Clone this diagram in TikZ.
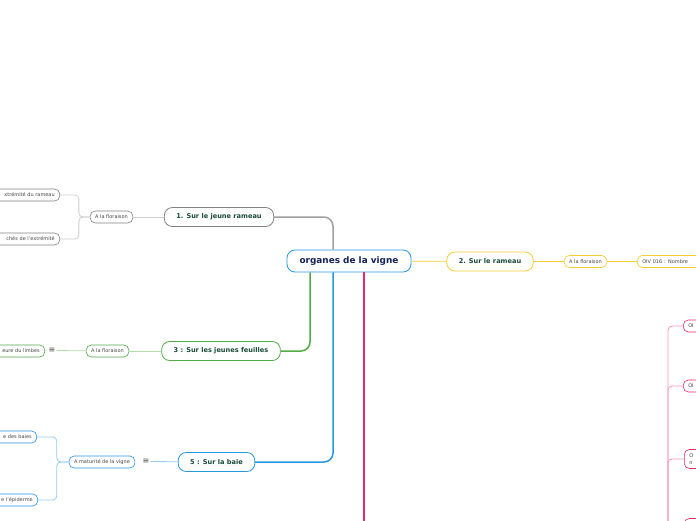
\documentclass[tikz,border=0pt]{standalone}
\usepackage{fontspec}
\setmainfont{DejaVu Sans}
\usetikzlibrary{positioning}

\definecolor{bleuR}{RGB}{40,150,225}
\definecolor{bleuC}{RGB}{150,205,240}
\definecolor{grisB}{RGB}{130,130,130}
\definecolor{grisT}{RGB}{160,160,160}
\definecolor{grisC}{RGB}{205,205,205}
\definecolor{vertB}{RGB}{80,170,70}
\definecolor{vertC}{RGB}{180,220,170}
\definecolor{jauneB}{RGB}{245,205,50}
\definecolor{roseB}{RGB}{230,40,110}
\definecolor{roseC}{RGB}{245,150,185}
\definecolor{marine}{RGB}{20,35,85}
\definecolor{vertT}{RGB}{25,75,55}
\definecolor{texteG}{RGB}{70,70,70}

\tikzset{
  root/.style={draw=bleuR, line width=0.8pt, rounded corners=8pt, fill=white,
    font=\bfseries\fontsize{8.9}{10}\selectfont, text=marine,
    minimum height=22pt, minimum width=124pt, inner sep=0pt},
  topic/.style={line width=0.8pt, rounded corners=8pt, fill=white,
    font=\bfseries\fontsize{6.6}{7}\selectfont, text=vertT,
    minimum height=19pt, inner xsep=12pt, inner ysep=0pt},
  sub/.style={line width=0.6pt, rounded corners=5pt, fill=white,
    font=\fontsize{5}{6}\selectfont, text=texteG,
    minimum height=12pt, inner xsep=5pt, inner ysep=0pt},
  leafL/.style={sub, text width=90pt, align=right, anchor=east},
  leafR/.style={sub, text width=60pt, align=left, anchor=west},
  note/.style={font=\fontsize{8}{8}\selectfont, text=texteG, inner sep=1pt},
  tronc/.style={line width=1.5pt, rounded corners=9pt},
  fil/.style={line width=0.8pt, rounded corners=4pt},
}

\begin{document}
\begin{tikzpicture}[x=1pt,y=-1pt]
  \useasboundingbox (0,0) rectangle (696,520);
  \clip (0,0) rectangle (696,520);

  % Central topic
  \node[root] (vigne) at (349,261) {organes de la vigne};

  % 1. Sur le jeune rameau
  \node[topic, draw=grisB] (jeuneR) at (219,217) {1. Sur le jeune rameau};
  \node[sub, draw=grisB] (florG) at (111.5,217) {A la floraison};
  \node[leafL, draw=grisB] (extrem) at (60,195) {xtrémité du rameau};
  \node[leafL, draw=grisB] (couches) at (60,239) {chés de l'extrémité};
  \draw[tronc, grisT] (jeuneR.east) -| ([xshift=-16pt]vigne.north);
  \draw[fil, grisC] (florG) -- (jeuneR);
  \draw[fil, grisC] (florG.west) -- ++(-11,0) |- (extrem.east);
  \draw[fil, grisC] (florG.west) -- ++(-11,0) |- (couches.east);

  % 2. Sur le rameau
  \node[topic, draw=jauneB] (rameau) at (490,261.5) {2. Sur le rameau};
  \node[sub, draw=jauneB] (florJ) at (585.5,261.5) {A la floraison};
  \node[leafR, draw=jauneB] (vrilles) at (637,261.5) {OIV 016 : Nombre};
  \draw[fil, jauneB] (vigne) -- (rameau);
  \draw[fil, jauneB] (rameau) -- (florJ);
  \draw[fil, jauneB] (florJ) -- (vrilles);

  % 3 : Sur les jeunes feuilles
  \node[topic, draw=vertB] (feuilles) at (221,351) {3 : Sur les jeunes feuilles};
  \node[sub, draw=vertB] (florV) at (107.5,351) {A la floraison};
  \node[leafL, draw=vertB] (limbes) at (45,351) {eure du limbes};
  \node[note] (noteV) at (52,350.5) {≡};
  \draw[tronc, vertB] (feuilles.east) -| ([xshift=-39pt]vigne.south);
  \draw[fil, vertC] (feuilles) -- (florV);
  \draw[fil, vertC] (florV) -- (noteV);

  % 4 (pink branch, continues below)
  \coordinate (roseBas) at (364,530);
  \draw[line width=1.8pt, roseB] ([xshift=15pt]vigne.south) -- (roseBas);
  \node[leafR, draw=roseB] (r1) at (683,326) {OI};
  \node[leafR, draw=roseB] (r2) at (683,386) {OI};
  \node[leafR, draw=roseB, minimum height=19pt, font=\fontsize{5}{6.5}\selectfont] (r3) at (684,459) {O\\n};
  \node[leafR, draw=roseB, minimum height=19pt] (r4) at (684,528) {};
  \coordinate (roseDroit) at (668,530);
  \foreach \r in {r1,r2,r3,r4}
    \draw[fil, roseC] (\r.west) -| (roseDroit);

  % 5 : Sur la baie
  \node[topic, draw=bleuR] (baie) at (216.5,462) {5 : Sur la baie};
  \node[sub, draw=bleuR] (maturite) at (102,462) {A maturité de la vigne};
  \node[note] (noteB) at (146,461.5) {≡};
  \node[leafL, draw=bleuR] (baies) at (37,437) {e des baies};
  \node[leafL, draw=bleuR] (epiderme) at (38,500) {e l'épiderme};
  \draw[tronc, bleuR] (baie.east) -| ([xshift=-16pt]vigne.south);
  \draw[fil, bleuC] (baie) -- (noteB);
  \draw[fil, bleuC] (maturite.west) -- ++(-12,0) |- (baies.east);
  \draw[fil, bleuC] (maturite.west) -- ++(-12,0) |- (epiderme.east);
\end{tikzpicture}
\end{document}
